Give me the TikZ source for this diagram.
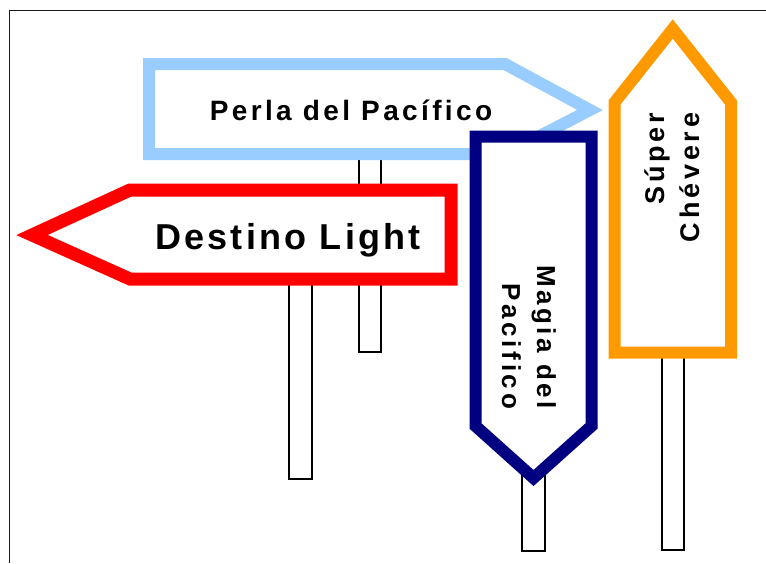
\documentclass[tikz,border=0pt]{standalone}
\usepackage{fontspec}
\setmainfont{Liberation Sans}
\definecolor{skyb}{HTML}{99CCFF}
\definecolor{signred}{HTML}{FF0000}
\definecolor{signnavy}{HTML}{000080}
\definecolor{signorange}{HTML}{FF9900}
\begin{document}
\begin{tikzpicture}[x=1pt,y=-1pt,
  post/.style={draw=black,line width=1.4pt,fill=white},
  sign/.style={line width=12pt,fill=white,line join=miter,miter limit=10},
  lbl/.style={inner sep=0pt, text=black}]
\useasboundingbox (0,0) rectangle (766,563);
% frame
\draw[line width=1.8pt,black!90] (9.5,563) -- (9.5,10.5) -- (766,10.5);
% posts
\draw[post] (359,150) rectangle (381,352);
\draw[post] (289,275) rectangle (312,479);
\draw[post] (522,470) rectangle (545,551);
\draw[post] (662,350) rectangle (684,550);
% blue sign
\draw[sign,draw=skyb] (149,64) -- (505,64) -- (590,110) -- (505,154) -- (149,154) -- cycle;
\node[lbl,font=\fontsize{28}{32}\selectfont\bfseries\addfontfeatures{LetterSpace=12}] (perla) at (351,110) {Perla del Pacífico};
% red sign
\draw[sign,line width=13pt,draw=signred] (32,235) -- (130,190) -- (451,190) -- (451,279) -- (130,279) -- cycle;
\node[lbl,font=\fontsize{36}{40}\selectfont\bfseries\addfontfeatures{LetterSpace=9}] (destino) at (288,240) {Destino Light};
% navy sign
\draw[sign,draw=signnavy] (475.5,136.5) -- (591.5,136.5) -- (591.5,426) -- (533.5,478) -- (475.5,426) -- cycle;
\node[lbl,rotate=-90,align=right,font=\fontsize{26}{35}\selectfont\bfseries\addfontfeatures{LetterSpace=14}] (magia) at (529,337) {Magia del\\Pacifico};
% orange sign
\draw[sign,draw=signorange] (614.5,352.5) -- (614.5,102.5) -- (672.75,29) -- (731,102.5) -- (731,352.5) -- cycle;
\node[lbl,rotate=90,align=right,font=\fontsize{27}{35}\selectfont\bfseries\addfontfeatures{LetterSpace=14}] (super) at (672.5,177.5) {Súper\\Chévere};
\end{tikzpicture}
\end{document}
